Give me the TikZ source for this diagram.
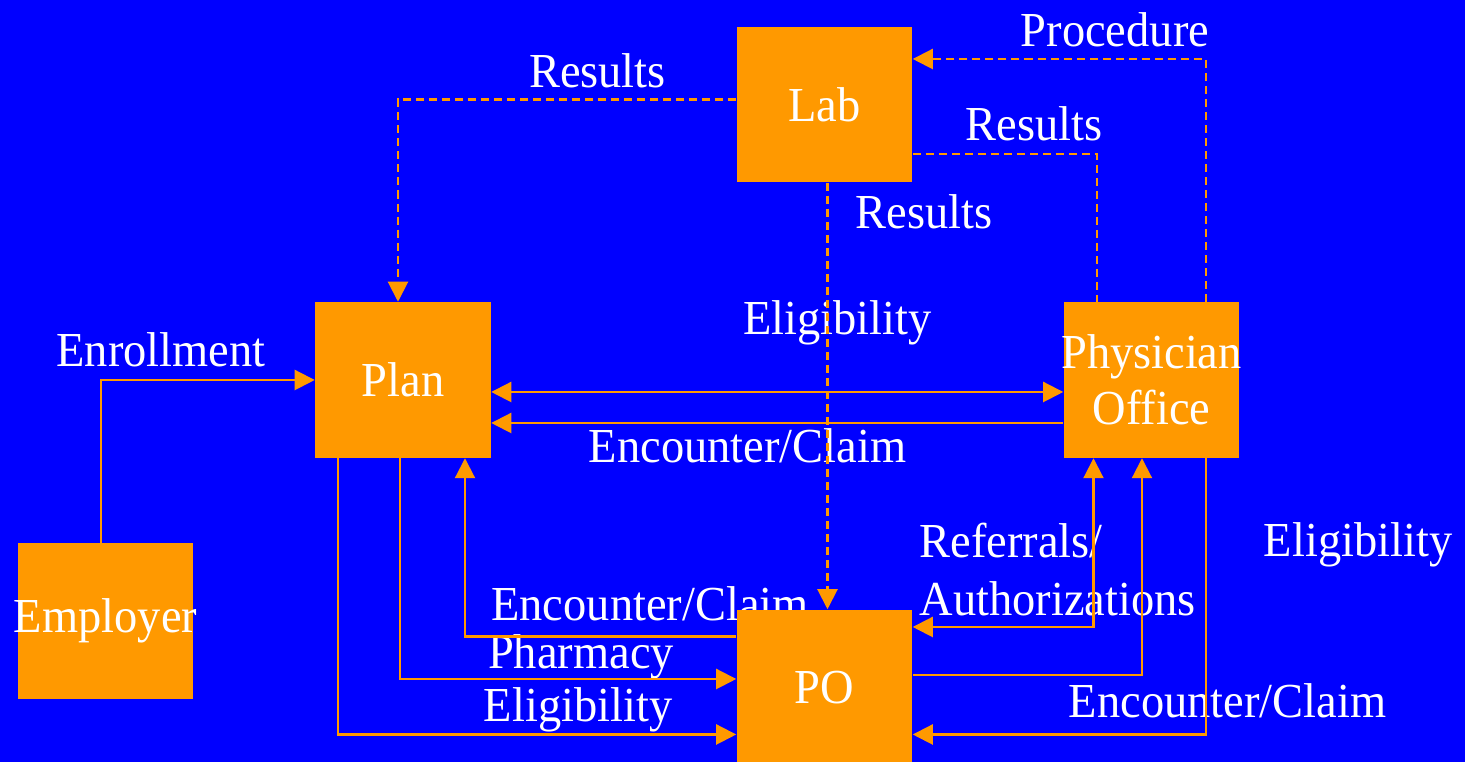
\documentclass[tikz,border=0pt]{standalone}
\usepackage{fontspec}
\setmainfont{Liberation Serif}[FakeStretch=0.95]
\usetikzlibrary{calc, positioning, arrows.meta}

\definecolor{box-orange}{RGB}{255,153,0}
\definecolor{diagram-blue}{RGB}{0,0,255}
\newcommand\diagramfont{\fontsize{13.9pt}{16pt}\selectfont}

\tikzset{
  entity/.style={rectangle, fill=box-orange, text=white, inner sep=0pt,
    minimum width=1.75cm, minimum height=1.55cm, font=\diagramfont},
  flow-label/.style={text=white, inner sep=0pt, anchor=base, font=\diagramfont},
  flow-line/.style={draw=box-orange, line width=0.6pt},
  flow-dash/.style={flow-line, dash pattern=on 0.08cm off 0.05cm},
  >={Triangle[length=0.2cm, width=0.2cm]}
}

\begin{document}
\begin{tikzpicture}[x=0.01cm, y=-0.01cm]

  \useasboundingbox (0,0) rectangle (1465,762);
  \fill[diagram-blue] (0,0) rectangle (1465,762);
  \clip (0,0) rectangle (1465,762);

  % labels
  \node[flow-label] (procedure-label)     at (1115,   47) {Procedure};
  \node[flow-label] (results-plan-label)  at (597.5,  88) {Results};
  \node[flow-label] (results-phys-label)  at (1034,  141) {Results};
  \node[flow-label] (results-po-label)    at (924,   229) {Results};
  \node[flow-label] (elig-phys-label)     at (837.5, 335) {Eligibility};
  \node[flow-label] (enrollment-label)    at (161,   367) {Enrollment};
  \node[flow-label] (claim-plan-label)    at (747.5, 462.5) {Encounter/Claim};
  \node[flow-label] (claim-po-label)      at (650,   621) {Encounter/Claim};
  \node[flow-label] (pharmacy-label)      at (581,   669) {Pharmacy};
  \node[flow-label] (elig-po-label)       at (578,   721.5) {Eligibility};
  \node[flow-label, anchor=base west, align=left] (referrals-label) at (919, 616) {Referrals/\\[0.5pt]Authorizations};
  \node[flow-label] (elig-right-label)    at (1358,  557) {Eligibility};
  \node[flow-label] (claim-right-label)   at (1227.5, 718) {Encounter/Claim};

  % boxes (wide text may run over the box edge)
  \node[entity] (lab)      at (824.5, 104.5) {Lab};
  \node[entity] (plan)     at (403,   380)   {Plan};
  \node[entity, align=center] (physician-office) at (1151.5, 380) {\makebox[0pt]{Physician}\\Office};
  \node[entity] (employer) at (105.5, 621)   {\makebox[0pt]{Employer}};
  \node[entity] (po)       at (824.5, 687.5) {PO};

  % dashed flows round the lab
  \draw[flow-dash, ->] ($(lab.west) + (0, -5)$) -| ($(plan.north) + (-5, 0)$);
  \draw[flow-dash, ->] ($(lab.south) + (3, 0)$) to ($(po.north) + (3, 0)$);
  \draw[flow-dash, ->] ($(physician-office.north) + (54.5, 0)$) |- ($(lab.east) + (0, -45.5)$);
  \draw[flow-dash] ($(lab.east) + (0, 49.5)$) -| ($(physician-office.north) + (-54.5, 0)$);

  % plan and physician office
  \draw[flow-line, ->] ($(employer.north) + (-4.5, 0)$) |- (plan.west);
  \draw[flow-line, <->] ($(plan.east) + (0, 12)$) to ($(physician-office.west) + (0, 12)$);
  \draw[flow-line, ->] ($(physician-office.west) + (0, 43)$) to ($(plan.east) + (0, 43)$);

  % flows to and from the po
  \draw[flow-line, ->] ($(po.west) + (0, -51)$) -| ($(plan.south) + (62, 0)$);
  \draw[flow-line, ->] ($(plan.south) + (-3, 0)$) |- ($(po.west) + (0, -8.5)$);
  \draw[flow-line, ->] ($(plan.south) + (-65, 0)$) |- ($(po.west) + (0, 47)$);
  \draw[flow-line, <->] ($(po.east) + (0, -60.5)$) -| ($(physician-office.south) + (-58, 0)$);
  \draw[flow-line, ->] ($(po.east) + (0, -12.5)$) -| ($(physician-office.south) + (-9.5, 0)$);
  \draw[flow-line, ->] ($(physician-office.south) + (54.5, 0)$) |- ($(po.east) + (0, 47)$);

\end{tikzpicture}
\end{document}
